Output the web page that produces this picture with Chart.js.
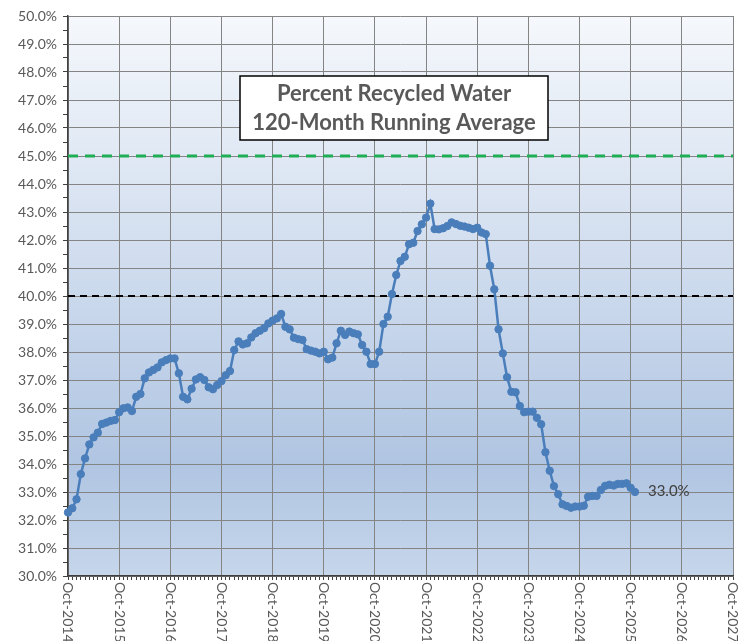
<!DOCTYPE html>
<html>
<head>
<meta charset="utf-8">
<script src="https://cdn.jsdelivr.net/npm/chart.js@4.4.1/dist/chart.umd.min.js"></script>
<style>
  html, body { margin: 0; padding: 0; background: #fff; }
  #wrap { width: 745px; height: 641px; position: relative; }
</style>
</head>
<body>
<div id="wrap"><canvas id="recycled"></canvas></div>
<script>
// tick labels shown on the x axis (every October)
const tickLabels = ['Oct-2014','Oct-2015','Oct-2016','Oct-2017','Oct-2018','Oct-2019','Oct-2020',
  'Oct-2021','Oct-2022','Oct-2023','Oct-2024','Oct-2025','Oct-2026','Oct-2027'];
const monthNames = ['Oct','Nov','Dec','Jan','Feb','Mar','Apr','May','Jun','Jul','Aug','Sep'];

// 120-month running average, % recycled water, monthly from Oct-2014
const runningAvg = [
  32.27,32.42,32.74,33.64,34.20,34.70,34.95,35.12,35.43,35.48,35.54,35.57,
  35.85,35.99,36.02,35.89,36.40,36.50,37.06,37.27,37.36,37.45,37.63,37.71,
  37.77,37.77,37.24,36.40,36.31,36.69,37.02,37.10,37.00,36.74,36.67,36.82,
  36.96,37.17,37.32,38.07,38.38,38.27,38.31,38.52,38.67,38.76,38.85,39.02,
  39.12,39.20,39.36,38.90,38.81,38.51,38.46,38.43,38.10,38.05,38.01,37.95,
  38.01,37.74,37.80,38.31,38.76,38.61,38.73,38.67,38.63,38.25,38.01,37.57,
  37.57,38.01,39.00,39.26,40.07,40.75,41.25,41.40,41.85,41.90,42.32,42.56,
  42.80,43.30,42.39,42.38,42.42,42.50,42.63,42.57,42.51,42.48,42.44,42.39,
  42.44,42.27,42.21,41.08,40.24,38.81,37.95,37.10,36.58,36.56,36.07,35.85,
  35.87,35.87,35.65,35.42,34.42,33.76,33.21,32.92,32.56,32.50,32.44,32.48,
  32.48,32.51,32.83,32.86,32.86,33.07,33.22,33.26,33.23,33.29,33.29,33.31,
  33.15,33.00
];
const goalLine = 45;
const limitLine = 40;
const lastLabel = '33.0%';

// month categories Oct-2014 .. Oct-2027
const months = [];
for (let y = 2014; y <= 2027; y++) {
  for (let m = 0; m < 12; m++) {
    const yr = m < 3 ? y : y + 1;
    months.push(monthNames[m] + '-' + yr);
    if (y === 2027) break;
  }
}

const bgPlugin = {
  id: 'plotBg',
  beforeDraw(chart) {
    const {ctx, chartArea: a} = chart;
    const g = ctx.createLinearGradient(0, a.top, 0, a.bottom);
    g.addColorStop(0, '#f5f8fc');
    g.addColorStop(0.45, '#cfdcee');
    g.addColorStop(0.8, '#b0c5e2');
    g.addColorStop(1, '#c6d6eb');
    ctx.save();
    ctx.fillStyle = g;
    ctx.fillRect(a.left, a.top, a.right - a.left, a.bottom - a.top);
    ctx.restore();
  }
};

const textPlugin = {
  id: 'texts',
  afterDraw(chart) {
    const {ctx, chartArea: a} = chart;
    const xs = chart.scales.x;
    ctx.save();
    // x labels, rotated, reading downwards
    ctx.font = '14px Lato';
    ctx.fillStyle = '#595959';
    ctx.textAlign = 'left';
    ctx.textBaseline = 'middle';
    months.forEach((m, i) => {
      if (tickLabels.includes(m)) {
        const x = xs.getPixelForTick(i);
        ctx.save();
        ctx.translate(x, a.bottom + 6);
        ctx.rotate(Math.PI / 2);
        ctx.fillText(m, 0, 0);
        ctx.restore();
      }
    });
    // last value label
    const meta = chart.getDatasetMeta(0);
    const last = meta.data[meta.data.length - 1];
    ctx.font = '15px Lato';
    ctx.fillStyle = '#404040';
    ctx.fillText(lastLabel, last.x + 13, last.y - 1);
    // title box
    const bx = 240, by = 76, bw = 308, bh = 64;
    ctx.fillStyle = '#ffffff';
    ctx.fillRect(bx, by, bw, bh);
    ctx.strokeStyle = '#000';
    ctx.lineWidth = 1.5;
    ctx.strokeRect(bx, by, bw, bh);
    ctx.fillStyle = '#595959';
    ctx.font = 'bold 22px Lato';
    ctx.textAlign = 'center';
    ctx.fillText('Percent Recycled Water', bx + bw / 2, by + 18);
    ctx.fillText('120-Month Running Average', bx + bw / 2, by + 47);
    ctx.restore();
  }
};

new Chart(document.getElementById('recycled'), {
  type: 'line',
  data: {
    labels: months,
    datasets: [
      {
        data: runningAvg,
        borderColor: '#4a7ebb',
        backgroundColor: '#4a7ebb',
        borderWidth: 2.5,
        pointRadius: 3.7,
        pointBorderWidth: 1,
        tension: 0
      },
      {
        data: months.map(() => limitLine),
        borderColor: '#000',
        borderWidth: 2,
        borderDash: [7, 5],
        pointRadius: 0
      },
      {
        data: months.map(() => goalLine),
        borderColor: '#1fae55',
        borderWidth: 3,
        borderDash: [10, 7],
        pointRadius: 0
      }
    ]
  },
  options: {
    responsive: true,
    maintainAspectRatio: false,
    animation: false,
    layout: { padding: { top: 16, right: 12, left: 0, bottom: 0 } },
    plugins: { legend: { display: false }, tooltip: { enabled: false } },
    scales: {
      x: {
        ticks: { display: false, autoSkip: false },
        grid: {
          color: c => (c.index % 12 === 0 ? '#848484' : 'transparent'),
          tickColor: '#404040',
          tickLength: 4,
          lineWidth: 1
        },
        border: { color: '#404040', width: 1.5 },
        afterFit: s => { s.height = 65; }
      },
      y: {
        min: 30,
        max: 50,
        ticks: {
          stepSize: 0.5,
          autoSkip: false,
          padding: 6,
          color: '#595959',
          font: { family: 'Lato', size: 14 },
          callback: v => (v % 1 === 0 ? v.toFixed(1) + '%' : '')
        },
        grid: {
          color: c => (c.tick && c.tick.value % 1 === 0 ? '#848484' : 'transparent'),
          tickColor: '#404040',
          tickLength: 5
        },
        border: { color: '#404040', width: 1.5 },
        afterFit: s => { s.width = 68; }
      }
    }
  },
  plugins: [bgPlugin, textPlugin]
});
</script>
</body>
</html>
